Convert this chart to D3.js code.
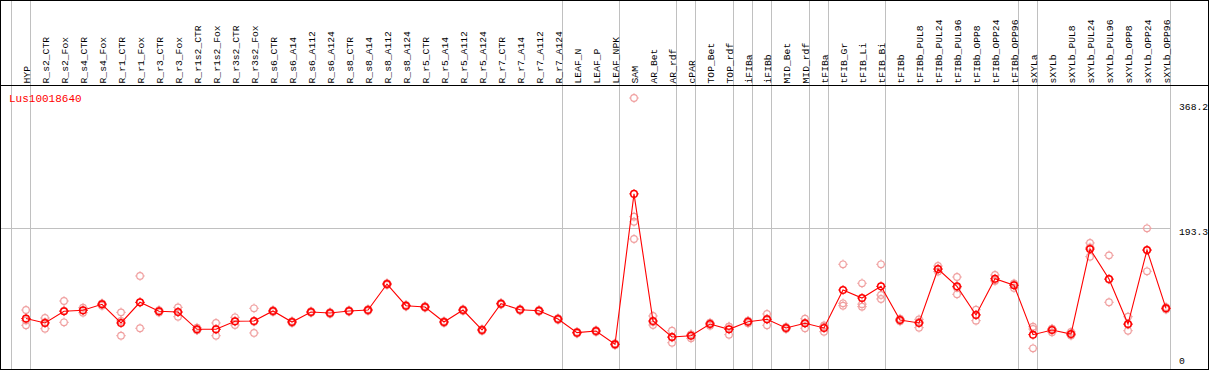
<!DOCTYPE html>
<html><head><meta charset="utf-8">
<script src="https://cdn.jsdelivr.net/npm/d3@7/dist/d3.min.js"></script>
<style>body{margin:0;background:#fff}svg{display:block}</style>
</head><body>
<svg id="c" width="1209" height="370"></svg>
<script>
const geneName = "Lus10018640";
const categories = ["HYP","R_s2_CTR","R_s2_Fox","R_s4_CTR","R_s4_Fox","R_r1_CTR","R_r1_Fox","R_r3_CTR","R_r3_Fox","R_r1s2_CTR","R_r1s2_Fox","R_r3s2_CTR","R_r3s2_Fox","R_s6_CTR","R_s6_A14","R_s6_A112","R_s6_A124","R_s8_CTR","R_s8_A14","R_s8_A112","R_s8_A124","R_r5_CTR","R_r5_A14","R_r5_A112","R_r5_A124","R_r7_CTR","R_r7_A14","R_r7_A112","R_r7_A124","LEAF_N","LEAF_P","LEAF_NPK","SAM","AR_Bet","AR_rdf","cPAR","TOP_Bet","TOP_rdf","iFIBa","iFIBb","MID_Bet","MID_rdf","tFIBa","tFIB_Gr","tFIB_Li","tFIB_Bi","tFIBb","tFIBb_PUL8","tFIBb_PUL24","tFIBb_PUL96","tFIBb_OPP8","tFIBb_OPP24","tFIBb_OPP96","sXYLa","sXYLb","sXYLb_PUL8","sXYLb_PUL24","sXYLb_PUL96","sXYLb_OPP8","sXYLb_OPP24","sXYLb_OPP96"];
const meanValues = [72.1,66.2,81.9,83.2,91.3,66.2,94.0,81.9,80.9,57.7,57.7,68.5,68.9,82.3,67.5,80.9,79.6,82.3,83.6,118.5,89.4,87.7,67.5,83.6,56.8,92.1,84.0,82.7,71.5,53.2,55.4,37.6,239.5,68.9,47.4,49.1,64.8,57.7,67.9,71.1,59.5,65.8,59.5,110.5,99.7,115.4,70.2,66.2,138.7,115.4,76.9,125.6,116.8,50.5,56.8,51.4,165.5,125.2,64.8,164.2,85.9];
const replicateValues = [
 [83.6,69.6,63.1],[72.9,67.2,58.5],[95.7,82.9,67.1],[86.7,82.9,80.0],[92.6,91.9,89.4],
 [80.5,69.0,49.1],[129.3,93.6,59.1],[83.5,81.9,80.3],[87.2,80.9,74.6],[59.9,56.8,56.4],
 [66.2,57.8,49.1],[73.8,68.2,63.5],[85.9,68.0,52.8],[83.5,82.3,81.1],[68.8,67.5,66.2],
 [82.0,80.9,79.8],[80.8,79.6,78.4],[83.4,82.3,81.2],[84.8,83.6,82.4],[119.8,118.5,117.2],
 [90.6,89.4,88.2],[88.9,87.7,86.5],[68.7,67.5,66.3],[84.8,83.6,82.4],[58.0,56.8,55.6],
 [93.3,92.1,90.9],[85.2,84.0,82.8],[83.9,82.7,81.5],[72.7,71.5,70.3],[54.4,53.2,52.0],
 [56.6,55.4,54.2],[38.8,37.6,36.4],[368.2,208.9,202.1,178.9],[75.6,67.6,63.5],[55.8,46.7,39.7],
 [51.0,50.7,45.6],[66.6,65.2,62.6],[61.2,61.4,50.5],[69.3,68.6,65.8],[78.3,71.9,63.1],
 [61.0,59.5,58.0],[71.9,66.4,59.1],[61.2,62.8,54.5],[145.0,92.6,89.4],[119.5,91.5,88.1],
 [145.0,103.8,98.4],[72.0,70.2,68.4],[71.1,67.6,59.9],[142.7,138.2,135.2],[127.9,113.6,104.7],
 [84.0,77.4,69.3],[130.6,123.6,122.6],[113.2,118.0,119.2],[58.1,61.2,32.2],[53.7,58.5,58.2],
 [54.1,50.8,49.3],[173.6,167.7,155.2],[157.0,124.6,94.0],[74.6,64.0,55.8],[193.3,163.7,135.6],
 [87.5,85.9,84.3]
];
const separatorAfter = [-1,0,28,31,34,35,37,38,39,41,42,45,52,53,60];
const tickLabels = ["368.2","193.3","0"];
const tickValues = [368.2,193.3,0];
const gridValues = [193.3];

const svg = d3.select("#c");
const W = 1209, H = 370;
const x = d3.scaleBand().domain(categories).range([16, 16 + 19*categories.length]).padding(0);
const cx = c => x(c) + 10;
const y = d3.scaleLinear().domain([0, 368.2]).range([372.3, 98]);
const monoFont = "Liberation Mono, DejaVu Sans Mono, monospace";

const gray = "#c0c0c0";
const sepX = i => (i < 0 ? x(categories[0]) - 19 : x(categories[i])) + 14.5;
svg.append("g").selectAll("line").data(separatorAfter).join("line")
  .attr("x1", sepX).attr("x2", sepX).attr("y1", 0).attr("y2", H)
  .attr("stroke", gray).attr("stroke-width", 1);
svg.append("g").selectAll("line").data(gridValues).join("line")
  .attr("x1", 0).attr("x2", sepX(60)).attr("y1", d => Math.round(y(d)) + 0.5).attr("y2", d => Math.round(y(d)) + 0.5)
  .attr("stroke", gray).attr("stroke-width", 1);

svg.append("rect").attr("x", 0.5).attr("y", 0.5).attr("width", 1208).attr("height", 369)
  .attr("fill", "none").attr("stroke", "#000").attr("stroke-width", 1);
svg.append("line").attr("x1", 0).attr("x2", W).attr("y1", 85.5).attr("y2", 85.5)
  .attr("stroke", "#000").attr("stroke-width", 1.2);

svg.append("g").selectAll("text").data(categories).join("text")
  .attr("transform", d => `translate(${cx(d) + 4},83.5) rotate(-90)`)
  .attr("font-family", monoFont).attr("font-size", "9.7px")
  .attr("fill", "#000").text(d => d);

svg.append("text").attr("x", 9).attr("y", 101.5).attr("fill", "#ff0000")
  .attr("font-family", monoFont).attr("font-size", "11px").text(geneName);

svg.append("g").selectAll("text").data(tickValues).join("text")
  .attr("x", 1179)
  .attr("y", d => Math.min(Math.max(y(d) + 3.7, 107.3), 361.7))
  .attr("dominant-baseline", "middle")
  .attr("font-family", monoFont).attr("font-size", "9.7px")
  .attr("fill", "#000").text((d, i) => tickLabels[i]);

function marker(g, px, py, color, sw) {
  g.append("circle").attr("cx", px).attr("cy", py).attr("r", 3.3)
    .attr("fill", "none").attr("stroke", color).attr("stroke-width", sw);
  const r1 = 3.3, r2 = 4.8;
  [[0,-1],[0,1],[-1,0],[1,0]].forEach(([dx,dy]) => {
    g.append("line").attr("x1", px + dx*r1).attr("y1", py + dy*r1)
      .attr("x2", px + dx*r2).attr("y2", py + dy*r2)
      .attr("stroke", color).attr("stroke-width", 1);
  });
}

const repG = svg.append("g");
categories.forEach((c, i) => {
  replicateValues[i].forEach(v => marker(repG, cx(c), y(v), "#f0a0a0", 1.2));
});

const line = d3.line().x((d, i) => cx(categories[i])).y(d => y(d));
svg.append("path").datum(meanValues).attr("d", line)
  .attr("fill", "none").attr("stroke", "#ff0000").attr("stroke-width", 1.1);

const mG = svg.append("g");
categories.forEach((c, i) => marker(mG, cx(c), y(meanValues[i]), "#ff0000", 1.5));
</script>
</body></html>
